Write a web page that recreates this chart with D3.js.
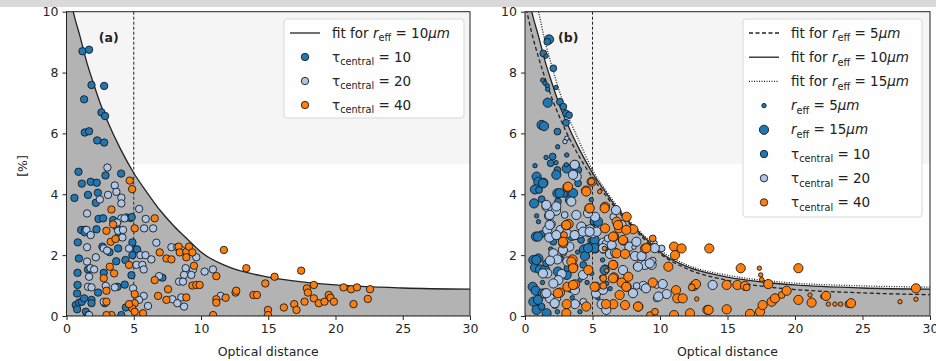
<!DOCTYPE html>
<html>
<head>
<meta charset="utf-8">
<script src="https://cdn.jsdelivr.net/npm/d3@7"></script>
<style>
  body { margin: 0; background: #fff; }
  svg { display: block; font-family: "DejaVu Sans", sans-serif; }
</style>
</head>
<body>
<svg id="chart" width="936" height="361"></svg>
<script>
// fitted curves
const fitX  = [0, 0.5, 1, 1.5, 2, 2.5, 3, 4, 5, 6, 7, 8, 9, 10, 12, 15, 17.5, 20, 25, 30];
const fit5  = [10.3, 9.3, 8.5, 7.8, 7.15, 6.6, 6.1, 5.25, 4.55, 3.95, 3.38, 2.9, 2.45, 2.05, 1.55, 1.17, 0.98, 0.87, 0.76, 0.7];
const fit10 = [11.2, 10.0, 9.2, 8.35, 7.65, 7.0, 6.45, 5.5, 4.7, 4.05, 3.45, 2.95, 2.52, 2.1, 1.62, 1.28, 1.12, 1.02, 0.92, 0.88];
const fit15 = [12.0, 10.9, 10.0, 9.0, 8.2, 7.45, 6.8, 5.75, 4.8, 4.12, 3.52, 3.0, 2.57, 2.17, 1.68, 1.34, 1.18, 1.08, 0.99, 0.95];

const xTicks = [0, 5, 10, 15, 20, 25, 30];
const yTicks = [0, 2, 4, 6, 8, 10];
const cutX = 5;          // dashed vertical line
const shadeY = [5, 10];  // light band

// panel (a): [optical distance, %]
const aTau10 = [[1.19,8.7],[1.68,8.75],[1.86,7.59],[2.8,7.56],[1.31,7.12],[2.6,6.69],[2.87,6.57],[1.36,6.03],[1.68,6.07],[2.28,5.77],[2.8,5.7],[0.89,4.74],[2.9,4.62],[4.06,4.68],[1.14,4.35],[1.8,4.41],[2.25,4.38],[0.59,3.88],[1.6,3.98],[2.33,4.05],[2.18,3.72],[2.38,3.19],[2.72,3.21],[3.47,3.15],[4.46,3.24],[4.75,3.22],[0.84,2.42],[1.09,2.83],[1.39,2.83],[2.23,2.85],[3.71,2.94],[3.86,2.61],[4.9,2.42],[0.92,1.89],[2.67,2.28],[3.84,2.22],[4.38,1.84],[5.07,2.19],[5.25,2.19],[0.82,1.42],[1.6,1.53],[2.77,1.42],[4.83,1.34],[0.82,1.02],[2.35,0.77],[3.79,0.96],[4.33,1.03],[0.79,0.74],[0.69,0.36],[0.94,0.44],[1.14,0.47],[1.31,0.58],[1.86,0.53],[1.86,0.42],[0.79,0.22],[1.44,0.14],[1.63,0.03],[4.08,0.03],[4.41,0.28],[2.85,0.42],[7.13,1.26],[4.9,2.0],[3.2,2.1],[1.35,2.75],[3.7,1.8],[4.85,3.25]];
const aTau20 = [[3.04,4.88],[3.59,4.29],[3.71,4.08],[3.09,3.98],[2.48,3.83],[4.08,3.89],[4.08,3.7],[1.53,3.37],[5.4,3.52],[5.89,3.19],[5.77,2.88],[6.44,2.88],[4.08,3.21],[4.31,3.21],[3.76,3.07],[3.84,2.8],[4.2,2.83],[4.16,2.58],[1.49,2.83],[1.8,2.66],[1.53,2.26],[2.77,2.22],[3.02,2.15],[4.65,2.22],[6.68,2.41],[7.8,2.26],[8.24,2.26],[8.54,2.17],[9.65,1.93],[5.5,2.0],[5.87,2.0],[6.31,1.86],[5.2,1.68],[5.64,1.68],[5.74,1.53],[1.53,1.79],[2.18,1.93],[1.78,1.57],[2.05,1.53],[1.68,1.29],[1.6,0.96],[1.86,0.94],[3.59,0.94],[2.92,0.99],[4.95,0.91],[8.86,1.57],[9.41,1.53],[9.28,1.35],[8.74,1.35],[8.37,1.13],[8.66,1.13],[6.88,1.31],[10.27,1.46],[10.89,1.53],[5.74,0.66],[5.4,0.53],[6.06,0.33],[7.87,0.55],[8.54,0.61],[8.74,0.31],[8.24,0.42],[11.46,0.66],[2.77,0.47],[1.68,0.03]];
const aTau40 = [[4.7,4.45],[4.88,4.17],[3.34,3.5],[5.07,2.88],[6.56,3.21],[2.97,2.8],[3.47,3.01],[3.29,2.44],[3.64,2.53],[6.93,2.09],[7.43,1.89],[7.8,1.86],[8.34,2.28],[8.42,2.09],[8.91,2.11],[9.11,2.28],[9.36,2.09],[8.91,1.93],[9.48,1.65],[11.7,2.17],[3.22,1.62],[3.54,1.4],[2.77,1.24],[4.65,1.68],[2.97,0.83],[5.07,0.72],[6.56,1.18],[7.55,0.88],[6.81,0.66],[7.43,0.53],[8.91,0.61],[9.36,1.0],[9.65,1.02],[9.9,1.02],[11.14,1.31],[11.14,0.55],[11.14,0.44],[11.83,0.6],[12.57,0.77],[12.62,0.83],[13.37,1.57],[13.9,0.69],[14.16,0.69],[14.78,1.07],[15.47,1.29],[14.98,0.2],[14.98,0.03],[16.16,0.28],[16.93,0.39],[17.1,0.2],[17.45,1.49],[17.7,0.47],[17.87,0.91],[17.95,0.77],[18.39,1.02],[18.39,0.58],[18.76,0.42],[19.18,0.47],[19.5,0.69],[19.63,0.6],[19.88,0.47],[20.6,0.94],[21.16,0.88],[21.34,0.39],[21.6,0.94],[22.4,0.56],[22.57,0.88],[10.9,0.03],[5.69,0.09],[5.07,0.42],[4.9,0.25],[3.34,0.03],[2.97,0.03],[2.97,0.47],[4.65,0.39],[5.07,0.14]];

// panel (b): [optical distance, %, r_eff]
const bTau10 = [[1.78,9.09,15],[1.65,9.01,10],[1.36,8.63,10],[1.56,8.54,5],[2.1,8.14,10],[1.31,7.75,5],[1.48,7.65,5],[1.65,7.56,5],[1.68,7.45,5],[2.3,7.51,5],[1.68,7.01,15],[2.59,7.04,10],[2.84,6.88,10],[3.04,6.66,10],[3.26,6.6,10],[3.04,6.35,10],[1.23,6.28,15],[1.41,6.24,15],[2.4,6.06,10],[2.42,5.56,5],[3.09,5.29,5],[0.74,4.94,5],[1.56,5.21,5],[2.05,5.24,10],[1.9,5.02,10],[2.3,5.04,5],[2.4,4.8,10],[3.09,4.85,15],[3.7,4.96,15],[3.95,4.8,10],[0.86,4.58,15],[0.99,4.41,15],[1.36,4.38,15],[0.74,4.16,15],[1.04,4.14,10],[2.4,4.03,15],[2.91,4.01,10],[3.33,3.81,15],[1.23,3.84,10],[3.58,3.98,5],[0.67,3.7,15],[1.73,3.37,5],[0.86,3.29,5],[0.81,2.61,15],[1.23,2.69,10],[2.1,2.44,10],[2.4,2.58,5],[3.46,2.63,15],[3.78,2.66,15],[4.15,2.5,10],[4.37,2.19,15],[4.52,1.97,10],[4.81,2.48,5],[4.89,2.28,15],[5.19,2.22,15],[5.31,2.33,10],[5.06,3.1,10],[5.01,2.94,5],[0.62,1.84,15],[0.99,1.89,15],[0.74,1.59,15],[1.11,1.53,15],[1.48,1.53,15],[1.56,1.73,10],[0.57,0.96,15],[0.79,0.83,15],[1.31,0.74,15],[0.62,0.47,15],[0.86,0.2,15],[1.23,0.31,10],[1.6,0.09,15],[2.22,0.36,10],[2.4,0.14,5],[3.09,1.35,15],[3.14,1.57,10],[4.07,1.18,5],[4.32,1.68,10],[4.44,1.97,15],[4.94,1.4,5],[5.68,1.27,5],[5.75,1.84,5],[5.93,1.57,10],[3.33,0.85,5],[4.07,0.14,5],[6.05,1.07,5],[6.54,1.62,5],[6.17,2.11,5],[6.59,1.75,5],
  [3.06,4.97,5],[2.32,4.64,15],[1.33,4.36,15],[3.93,4.36,10],[2.57,4.04,15],[3.56,4.04,15],[2.44,3.76,10],[4.91,3.82,5],[5.41,3.1,15],[0.96,2.61,15],[5.16,2.5,15],[5.16,2.23,15],[4.67,2.23,15],[0.84,1.84,15],[2.44,1.46,15],[5.9,1.51,15],[0.96,0.53,15],[1.0,3.1,5],[1.9,2.2,5],[2.7,1.9,5],[3.9,2.1,5],[4.6,1.1,5],[5.4,0.6,5],[1.3,1.1,5],[3.5,0.6,5],[6.3,0.9,5]];
const bTau20 = [[3.09,5.84,5],[2.96,5.73,5],[3.7,4.69,10],[3.83,4.58,15],[1.6,3.59,15],[1.98,3.5,10],[1.78,3.29,15],[2.3,3.46,15],[1.9,3.02,15],[1.65,2.83,15],[2.64,2.83,15],[3.09,2.72,15],[1.8,2.58,15],[3.28,2.28,15],[2.1,2.06,15],[2.84,2.08,10],[2.4,1.86,15],[3.14,1.79,15],[1.85,1.82,15],[1.65,1.4,15],[2.72,1.38,15],[2.47,1.18,15],[2.1,1.07,15],[1.48,0.74,15],[1.85,0.58,15],[2.4,0.58,10],[3.7,0.39,15],[4.32,0.47,10],[5.26,0.74,15],[5.68,0.39,15],[3.7,0.85,15],[4.07,2.72,15],[4.44,2.83,15],[4.81,2.85,15],[4.69,2.72,10],[5.01,2.72,15],[5.31,2.77,15],[5.19,3.26,15],[5.8,2.41,15],[5.8,2.17,10],[6.05,2.37,15],[6.12,2.55,10],[6.42,2.33,15],[6.3,2.04,15],[6.67,2.08,15],[6.54,3.26,10],[6.74,3.48,15],[7.16,2.99,15],[7.53,2.8,5],[7.73,2.28,15],[8.07,2.26,5],[8.15,1.97,15],[8.52,1.68,15],[8.64,1.97,15],[8.27,1.62,10],[8.89,1.68,15],[9.38,1.68,15],[9.46,1.82,10],[8.77,0.99,15],[8.96,0.91,15],[8.27,0.99,10],[9.75,1.02,10],[10.12,2.22,10],[10.2,1.05,15],[9.75,0.58,10],[10.49,0.72,15],[13.9,1.02,15],[9.26,2.28,5],[9.63,2.41,5],[9.88,0.64,15],
  [3.68,4.97,15],[3.56,4.64,15],[1.58,3.65,15],[2.32,3.6,15],[3.43,3.76,15],[1.83,3.32,15],[2.94,3.32,10],[3.8,3.32,15],[4.67,3.38,15],[4.17,2.94,15],[1.83,2.99,15],[2.32,2.66,15],[3.68,2.66,15],[4.3,2.77,15],[4.79,2.77,15],[5.78,2.23,15],[8.25,2.44,15],[9.61,2.23,15],[2.81,2.17,15],[1.33,1.4,15],[4.3,1.35,15],[7.26,1.51,15],[8.37,1.62,15],[9.24,1.73,15],[8.0,0.75,15],[5.78,0.86,15],[1.58,0.75,15],[2.2,0.42,15],[6.02,0.2,15]];
const bTau40 = [[4.94,4.41,15],[4.52,4.12,15],[3.14,4.23,15],[4.77,3.54,15],[5.93,3.59,15],[5.93,2.88,15],[6.79,3.1,15],[6.96,2.88,15],[7.53,3.26,15],[8.02,2.85,15],[7.28,2.48,15],[6.59,2.61,15],[5.88,2.22,5],[6.79,2.06,15],[8.89,2.22,15],[9.46,2.55,10],[7.41,2.04,15],[3.53,1.86,15],[3.58,1.62,15],[2.84,2.39,15],[2.89,2.66,10],[3.04,2.98,15],[3.23,3.02,15],[4.69,1.51,15],[5.26,0.96,15],[6.54,1.68,15],[6.59,1.27,15],[7.16,1.1,15],[7.53,0.96,15],[7.65,1.29,15],[5.8,1.24,10],[6.05,1.49,5],[9.46,1.1,15],[10.62,1.62,15],[11.04,2.28,15],[11.6,2.22,15],[11.11,2.0,15],[11.19,0.85,15],[11.28,0.58,15],[11.68,0.58,15],[12.52,0.99,15],[12.67,1.05,15],[12.35,0.94,10],[12.72,0.56,5],[13.65,2.22,15],[13.51,0.2,15],[14.94,1.02,15],[14.94,0.22,15],[15.73,1.02,15],[15.98,1.57,15],[16.3,0.99,15],[16.42,0.94,10],[16.67,0.07,15],[17.41,0.14,15],[17.36,1.57,5],[17.46,1.35,5],[17.53,1.2,5],[17.6,0.36,15],[17.85,1.02,5],[18.02,1.05,15],[18.27,0.47,15],[18.52,0.58,15],[19.01,0.69,10],[19.38,0.83,15],[20.25,1.57,15],[20.25,0.53,15],[21.11,0.69,5],[21.23,0.44,15],[22.05,0.64,5],[22.3,0.66,15],[22.47,0.39,5],[22.96,0.39,5],[23.38,0.39,5],[23.95,0.39,10],[24.15,0.42,15],[27.78,0.47,5],[28.96,0.91,15],[28.96,0.55,5],[6.54,0.39,15],[7.41,0.36,15],[8.4,0.31,15],[9.26,0.03,10],[9.63,0.14,10],[11.04,0.03,15],[12.22,0.09,15],[13.6,0.2,15],[3.09,0.39,15],[3.09,0.09,10],[2.59,0.77,15],[3.14,0.96,15],[3.7,1.04,15],[5.8,0.99,10],[6.0,0.39,15],[4.62,0.28,5],
  [3.19,4.25,15],[4.91,4.42,10],[4.54,4.09,15],[5.53,4.09,5],[4.79,3.54,15],[5.9,3.54,15],[3.06,2.99,15],[6.52,2.61,15],[7.26,2.5,15],[6.89,2.99,15],[7.5,2.83,15],[8.99,2.23,15],[2.81,2.44,15],[3.43,1.79,15],[3.56,1.57,15],[6.52,1.68,15],[6.52,1.24,15],[7.5,0.96,15],[5.16,0.96,15],[3.56,1.02,15],[2.44,0.75,15],[4.54,0.31,15],[7.01,0.69,15],[8.37,0.31,15],[3.06,0.09,15]];

const colors = { 10: "#1f77b4", 20: "#aec7e8", 40: "#ff7f0e" };

const svg = d3.select("#chart");
svg.append("rect").attr("x", 0).attr("y", 0).attr("width", 936).attr("height", 7).attr("fill", "#d9d9d9");

const plotTop = 11.7, plotBottom = 316;
const y = d3.scaleLinear().domain([0, 10]).range([plotBottom, plotTop]);
const rScale = d3.scaleLinear().domain([5, 15]).range([2.2, 4.6]);

function mathText(sel, parts, fs) {
  let shift = 0;
  parts.forEach(p => {
    const t = sel.append("tspan").text(p.t);
    if (p.i) t.attr("font-style", "italic");
    if (p.sub) {
      t.attr("font-size", fs * 0.72).attr("dy", 3.8);
      shift = 3.8;
    } else if (shift) {
      t.attr("dy", -shift);
      shift = 0;
    }
  });
}

function drawPanel(id, x0, x1, opts) {
  const x = d3.scaleLinear().domain([0, 30]).range([x0, x1]);
  const g = svg.append("g");
  g.append("clipPath").attr("id", "clip" + id)
    .append("rect").attr("x", x0).attr("y", plotTop).attr("width", x1 - x0).attr("height", plotBottom - plotTop);
  const body = g.append("g").attr("clip-path", "url(#clip" + id + ")");

  body.append("rect")
    .attr("x", x(0)).attr("width", x(30) - x(0))
    .attr("y", y(shadeY[1])).attr("height", y(shadeY[0]) - y(shadeY[1]))
    .attr("fill", "#f5f5f5");

  const pts = fitX.map((v, i) => [v, fit10[i]]);
  body.append("path").datum(pts)
    .attr("d", d3.area().x(d => x(d[0])).y0(y(0)).y1(d => y(d[1])).curve(d3.curveMonotoneX))
    .attr("fill", "#b3b3b3");

  body.append("line")
    .attr("x1", x(cutX)).attr("x2", x(cutX)).attr("y1", y(10)).attr("y2", y(0))
    .attr("stroke", "#222").attr("stroke-width", 1).attr("stroke-dasharray", "3,2");
  body.append("line")
    .attr("x1", x(0)).attr("x2", x(30)).attr("y1", y(0)).attr("y2", y(0))
    .attr("stroke", "#444").attr("stroke-width", 1).attr("stroke-dasharray", "2,2");

  const line = d3.line().x(d => x(d[0])).y(d => y(d[1])).curve(d3.curveMonotoneX);
  opts.fits.forEach(f => {
    body.append("path").datum(fitX.map((v, i) => [v, f.values[i]]))
      .attr("d", line).attr("fill", "none")
      .attr("stroke", "#222").attr("stroke-width", 1.3)
      .attr("stroke-dasharray", f.dash);
  });

  opts.series.forEach(s => {
    body.append("g").selectAll("circle").data(s.data).enter().append("circle")
      .attr("cx", d => x(d[0])).attr("cy", d => y(d[1]))
      .attr("r", d => d.length > 2 ? rScale(d[2]) : 3.7)
      .attr("fill", colors[s.tau])
      .attr("stroke", "#1a1a1a").attr("stroke-width", 0.9);
  });

  // frame
  g.append("rect").attr("x", x0).attr("y", plotTop).attr("width", x1 - x0).attr("height", plotBottom - plotTop)
    .attr("fill", "none").attr("stroke", "#222").attr("stroke-width", 1);

  const xa = g.append("g").attr("transform", `translate(0,${plotBottom})`)
    .call(d3.axisBottom(x).tickValues(xTicks).tickSize(4).tickPadding(4));
  const ya = g.append("g").attr("transform", `translate(${x0},0)`)
    .call(d3.axisLeft(y).tickValues(yTicks).tickSize(4).tickPadding(4));
  [xa, ya].forEach(a => {
    a.select(".domain").remove();
    a.selectAll("line").attr("stroke", "#222");
    a.selectAll("text").attr("font-size", 12.5).attr("fill", "#262626")
      .attr("font-family", "DejaVu Sans, sans-serif");
  });

  g.append("text").attr("x", (x0 + x1) / 2).attr("y", 356)
    .attr("text-anchor", "middle").attr("font-size", 12.5).attr("fill", "#262626")
    .text("Optical distance");

  g.append("text").attr("x", x(opts.tagX)).attr("y", 42)
    .attr("font-size", 12.5).attr("font-weight", "bold").attr("fill", "#222")
    .text(opts.tag);

  // legend
  const L = opts.legend;
  const lg = g.append("g");
  lg.append("rect").attr("x", L.x).attr("y", L.y).attr("width", L.w).attr("height", L.h)
    .attr("rx", 3).attr("fill", "#fff").attr("fill-opacity", 0.85)
    .attr("stroke", "#d8d8d8");
  L.items.forEach((it, i) => {
    const cy = L.y + 14 + i * L.step;
    if (it.dash !== undefined) {
      lg.append("line").attr("x1", L.x + 6).attr("x2", L.x + 36).attr("y1", cy).attr("y2", cy)
        .attr("stroke", "#222").attr("stroke-width", 1.3).attr("stroke-dasharray", it.dash);
    } else {
      lg.append("circle").attr("cx", L.x + 21).attr("cy", cy).attr("r", it.r)
        .attr("fill", it.color).attr("stroke", "#1a1a1a").attr("stroke-width", 0.9);
    }
    const t = lg.append("text").attr("x", L.x + 48).attr("y", cy + 4.5)
      .attr("font-size", 13.5).attr("fill", "#222");
    mathText(t, it.parts, 13.5);
  });
}

const fitParts = v => [{ t: "fit for " }, { t: "r", i: true }, { t: "eff", sub: true }, { t: " = " + v }, { t: "μm", i: true }];
const reffParts = v => [{ t: "r", i: true }, { t: "eff", sub: true }, { t: " = " + v }, { t: "μm", i: true }];
const tauParts = v => [{ t: "τ" }, { t: "central", sub: true }, { t: " = " + v }];

drawPanel("a", 66.5, 470, {
  tag: "(a)", tagX: 2.4,
  fits: [{ values: fit10, dash: null }],
  series: [{ tau: 10, data: aTau10 }, { tau: 20, data: aTau20 }, { tau: 40, data: aTau40 }],
  legend: {
    x: 284, y: 19, w: 180, h: 99, step: 24,
    items: [
      { dash: null, parts: fitParts(10) },
      { color: colors[10], r: 3.7, parts: tauParts(10) },
      { color: colors[20], r: 3.7, parts: tauParts(20) },
      { color: colors[40], r: 3.7, parts: tauParts(40) }
    ]
  }
});

drawPanel("b", 525, 930, {
  tag: "(b)", tagX: 2.45,
  fits: [{ values: fit5, dash: "4,2.5" }, { values: fit10, dash: null }, { values: fit15, dash: "1,1.5" }],
  series: [{ tau: 10, data: bTau10 }, { tau: 20, data: bTau20 }, { tau: 40, data: bTau40 }],
  legend: {
    x: 743, y: 19, w: 179, h: 198, step: 24.2,
    items: [
      { dash: "4,2.5", parts: fitParts(5) },
      { dash: null, parts: fitParts(10) },
      { dash: "1,1.5", parts: fitParts(15) },
      { color: colors[10], r: rScale(5), parts: reffParts(5) },
      { color: colors[10], r: rScale(15), parts: reffParts(15) },
      { color: colors[10], r: 3.7, parts: tauParts(10) },
      { color: colors[20], r: 3.7, parts: tauParts(20) },
      { color: colors[40], r: 3.7, parts: tauParts(40) }
    ]
  }
});

// y label (left panel only)
svg.append("text").attr("transform", "translate(27,166) rotate(-90)")
  .attr("text-anchor", "middle").attr("font-size", 12.5).attr("fill", "#262626").text("[%]");
</script>
</body>
</html>
